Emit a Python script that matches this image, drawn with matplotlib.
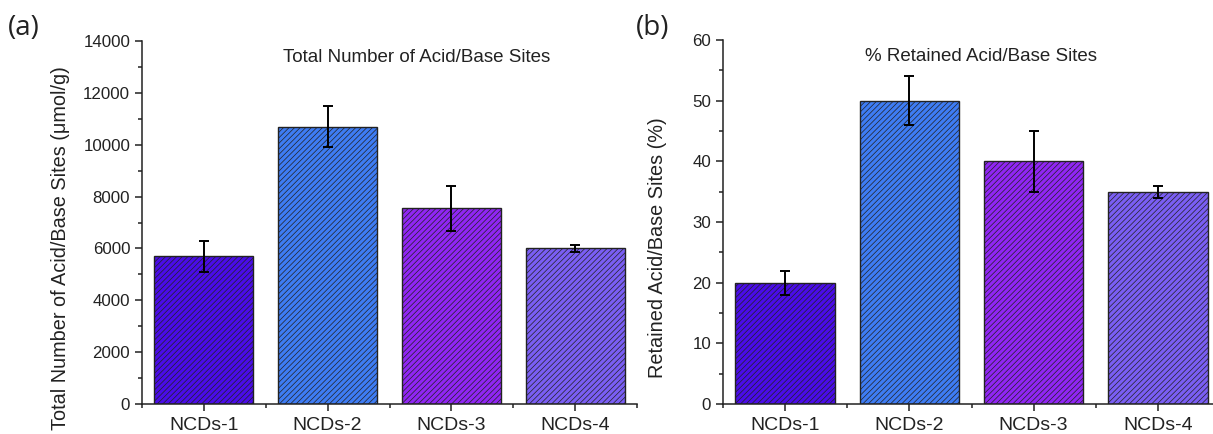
import matplotlib
matplotlib.use('Agg')
import matplotlib.pyplot as plt
from matplotlib.ticker import MultipleLocator, FixedLocator

categories = ['NCDs-1', 'NCDs-2', 'NCDs-3', 'NCDs-4']
total_sites = [5700, 10700, 7550, 6000]
total_err = [600, 800, 870, 150]
retained_pct = [20, 50, 40, 35]
retained_err = [2, 4, 5, 1]
bar_colors = ['#4A0CE8', '#3E7CF4', '#9026F4', '#7A5EF4']

plt.rcParams['font.family'] = ['Liberation Sans', 'DejaVu Sans']
plt.rcParams['hatch.linewidth'] = 0.5
plt.rcParams['hatch.color'] = '#262650'

fig = plt.figure(figsize=(12.13, 4.34), dpi=100)
ax1 = fig.add_axes([142 / 1213, 30 / 434, 495 / 1213, 363 / 434])
ax2 = fig.add_axes([723 / 1213, 30 / 434, 497 / 1213, 364 / 434])

x = [1, 2, 3, 4]


def draw(ax, vals, errs, ylim, major, minor, ylabel, title, title_x, label_x):
    ax.bar(x, vals, width=0.8, color=bar_colors, edgecolor='#222222',
           linewidth=1.0, hatch='/' * 6, zorder=2)
    ax.errorbar(x, vals, yerr=errs, fmt='none', ecolor='black',
                elinewidth=1.4, capsize=3.5, capthick=1.4, zorder=3)
    ax.set_xlim(0.5, 4.5)
    ax.set_ylim(*ylim)
    ax.set_xticks(x)
    ax.set_xticklabels(categories, fontsize=14)
    ax.xaxis.set_minor_locator(FixedLocator([0.5, 1.5, 2.5, 3.5, 4.5]))
    ax.yaxis.set_major_locator(MultipleLocator(major))
    ax.yaxis.set_minor_locator(MultipleLocator(minor))
    ax.tick_params(axis='both', which='major', direction='out', length=5,
                   width=1.1, color='#222222', labelcolor='#222222')
    ax.tick_params(axis='both', which='minor', direction='out', length=3,
                   width=1.1, color='#222222')
    ax.tick_params(axis='y', labelsize=12.2)
    ax.tick_params(axis='x', pad=4)
    for s in ['top', 'right']:
        ax.spines[s].set_visible(False)
    for s in ['left', 'bottom']:
        ax.spines[s].set_linewidth(1.1)
        ax.spines[s].set_color('#222222')
    ax.set_ylabel(ylabel, fontsize=14.3, color='#222222')
    ax.yaxis.set_label_coords(label_x, 0.43)
    ax.text(title_x, 0.955, title, transform=ax.transAxes, ha='center',
            va='center', fontsize=13.5, color='#222222')
    return ax


draw(ax1, total_sites, total_err, (0, 14000), 2000, 1000,
     'Total Number of Acid/Base Sites (\u03bcmol/g)',
     'Total Number of Acid/Base Sites', 0.555, -0.145)
draw(ax2, retained_pct, retained_err, (0, 60), 10, 5,
     'Retained Acid/Base Sites (%)',
     '% Retained Acid/Base Sites', 0.52, -0.112)

fig.text(8 / 1213, 1 - 28 / 434, '(a)', fontsize=20, family='Open Sans',
         va='center', ha='left', color='#222222')
fig.text(636 / 1213, 1 - 28 / 434, '(b)', fontsize=20, family='Open Sans',
         va='center', ha='left', color='#222222')

fig.savefig('out.png', dpi=100)
